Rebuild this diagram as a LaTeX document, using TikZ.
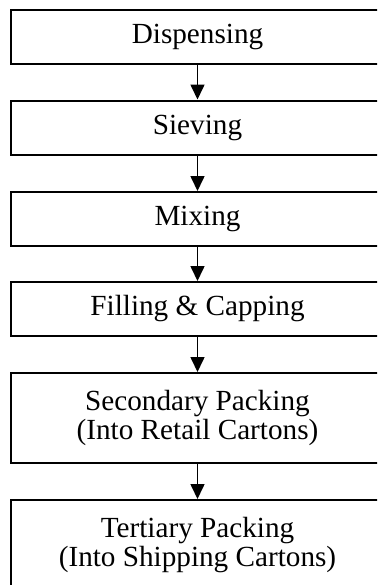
\documentclass[tikz,border=0pt]{standalone}
\usepackage{fontspec}
\setmainfont{Liberation Serif}
\usetikzlibrary{arrows.meta}
\begin{document}
\begin{tikzpicture}[x=0.5pt,y=-0.5pt,
  stage/.style={draw, line width=1pt, minimum width=186.5pt, inner sep=0pt,
    align=center, font=\fontsize{14.6}{14.5}\selectfont},
  short/.style={stage, minimum height=27pt},
  tall/.style={stage, minimum height=45pt},
  flow/.style={-{Triangle[length=7.5pt,width=7pt]}, line width=0.8pt}]
\useasboundingbox (0,0) rectangle (377,585);
\clip (0,0) rectangle (377,585);
% process stages, top to bottom
\node[short] (s1) at (197.5,37)  {Dispensing};
\node[short] (s2) at (197.5,127.5) {Sieving};
\node[short] (s3) at (197.5,219) {Mixing};
\node[short] (s4) at (197.5,309) {Filling \& Capping};
\node[tall]  (s5) at (197.5,418) {Secondary Packing\\(Into Retail Cartons)};
\node[tall]  (s6) at (197.5,545) {Tertiary Packing\\(Into Shipping Cartons)};
% connectors
\draw[flow] (s1) -- (s2);
\draw[flow] (s2) -- (s3);
\draw[flow] (s3) -- (s4);
\draw[flow] (s4) -- (s5);
\draw[flow] (s5) -- (s6);
\end{tikzpicture}
\end{document}
